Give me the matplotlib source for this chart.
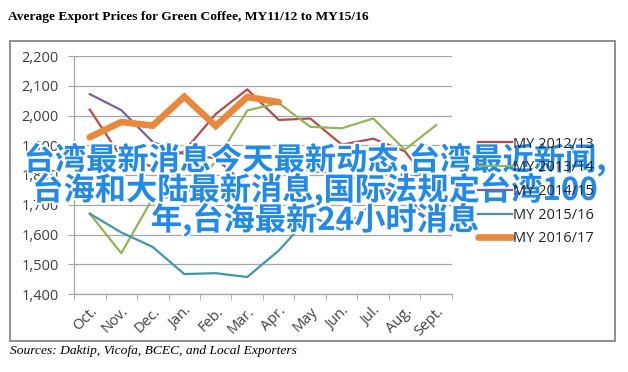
import matplotlib
matplotlib.use('Agg')
import matplotlib.pyplot as plt
import matplotlib.patheffects as pe
from matplotlib.patches import Rectangle
import numpy as np

# months of the marketing year
months = ['Oct.', 'Nov.', 'Dec.', 'Jan.', 'Feb.', 'Mar.', 'Apr.', 'May',
          'Jun.', 'Jul.', 'Aug.', 'Sept.']

# average export prices (USD/ton)
my_2012_13 = [2020, 1860, 1828, 1880, 2005, 2088, 1985, 1990, 1902, 1922, 1880, 1745]
my_2013_14 = [1670, 1537, 1722, 1728, 1845, 2017, 2042, 1962, 1957, 1990, 1885, 1968]
my_2014_15 = [2072, 2018, 1911, 1870, 1856, 1762, 1825, 1815, 1800, 1770, 1728, 1638]
my_2015_16 = [1670, 1607, 1558, 1467, 1470, 1457, 1546, 1662, 1615, 1706, 1775, 1840]
my_2016_17 = [1927, 1978, 1966, 2063, 1965, 2062, 2045]

series_names = ['MY 2012/13', 'MY 2013/14', 'MY 2014/15', 'MY 2015/16', 'MY 2016/17']
y_ticks = [1400, 1500, 1600, 1700, 1800, 1900, 2000, 2100, 2200]

title = 'Average Export Prices for Green Coffee, MY11/12 to MY15/16'
source = 'Sources: Daktip, Vicofa, BCEC, and Local Exporters'
overlay_lines = ['台湾最新消息今天最新动态,台湾最近新闻,',
                 '台海和大陆最新消息,国际法规定台湾100',
                 '年,台海最新24小时消息']

W, H = 628, 372
fig = plt.figure(figsize=(W/100, H/100), dpi=100)

# outer chart frame
fig.patches.append(Rectangle((10/W, 1-341/H), 605/W, 300/H,
                             transform=fig.transFigure, fill=False,
                             edgecolor='#868686', linewidth=1.3))

ax = fig.add_axes([74/W, 1-294/H, 378/W, 238/H])
x = np.arange(len(months))

ax.plot(x, my_2012_13, color='#B84A47', lw=1.6, label=series_names[0])
ax.plot(x, my_2013_14, color='#93B556', lw=1.6, label=series_names[1])
ax.plot(x, my_2014_15, color='#7B5F9E', lw=1.6, label=series_names[2])
ax.plot(x, my_2015_16, color='#3F97A8', lw=1.6, label=series_names[3])
ax.plot(x[:len(my_2016_17)], my_2016_17, color='#E8883C', lw=4.8,
        solid_capstyle='round', solid_joinstyle='miter', label=series_names[4])

ax.set_xlim(-0.5, len(months) - 0.5)
ax.set_ylim(1400, 2200)
ax.set_yticks(y_ticks)
ax.set_yticklabels(['{:,}'.format(v) for v in y_ticks])
ax.yaxis.grid(True, color='#A6A6A6', lw=0.9)
ax.set_axisbelow(True)

ax.set_xticks(x)
ax.set_xticklabels(months, rotation=45, ha='right', va='top',
                   rotation_mode='anchor')
ax.set_xticks(np.arange(-0.5, len(months)), minor=True)
ax.tick_params(axis='x', which='major', length=0, pad=7,
               labelsize=10.5, labelcolor='#404040')
ax.tick_params(axis='x', which='minor', length=4, color='#A6A6A6')
ax.tick_params(axis='y', length=4, color='#A6A6A6', labelsize=10.5,
               labelcolor='#404040', pad=7)
for lbl in ax.get_xticklabels() + ax.get_yticklabels():
    lbl.set_family('Open Sans')

for side in ['top', 'right']:
    ax.spines[side].set_visible(False)
for side in ['left', 'bottom']:
    ax.spines[side].set_color('#A6A6A6')
    ax.spines[side].set_linewidth(0.9)

leg = fig.legend(*ax.get_legend_handles_labels(), loc='center left',
                 bbox_to_anchor=(478/W, 1-191.5/H), frameon=False,
                 borderpad=0, borderaxespad=0,
                 handlelength=2.3, handletextpad=0.1, labelspacing=0.6,
                 prop={'family': 'Open Sans', 'size': 10.5})
for t in leg.get_texts():
    t.set_color('#262626')

fig.text(8/W, 1-17/H, title, family='Liberation Serif', weight='bold',
         fontsize=9.7, va='center', ha='left')
fig.text(10/W, 1-351/H, source, family='Liberation Serif', style='italic',
         fontsize=9.7, va='center', ha='left')

# watermark text laid over the chart
for i, line in enumerate(overlay_lines):
    fig.text(315/W, 1-(160 + 30*i)/H, line,
             family=['Noto Sans CJK SC', 'DejaVu Sans'], weight='bold',
             fontsize=22.5, color='#2189EA', ha='center', va='center',
             path_effects=[pe.withStroke(linewidth=3, foreground='white')])

fig.savefig('out.png', dpi=100)
